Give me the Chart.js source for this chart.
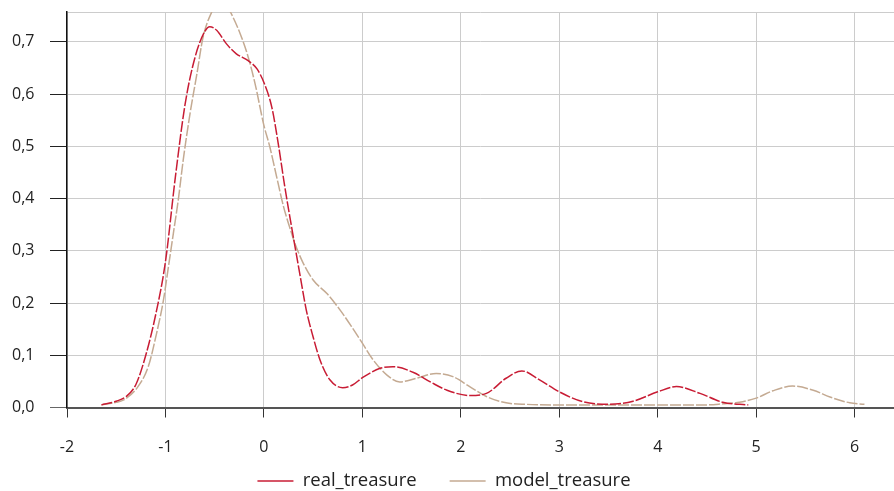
<!DOCTYPE html>
<html>
<head>
<meta charset="utf-8">
<script src="https://cdn.jsdelivr.net/npm/chart.js@4.4.1/dist/chart.umd.min.js"></script>
<style>
  html, body { margin: 0; padding: 0; background: #fff; }
  #wrap { width: 894px; height: 491px; }
</style>
</head>
<body>
<div id="wrap"><canvas id="c" width="894" height="491"></canvas></div>
<script>
// Kernel density estimates of the treasure returns
const realX = [-1.65, -1.5, -1.4, -1.3, -1.2, -1.1, -1.0, -0.9, -0.8, -0.7, -0.6, -0.55, -0.48, -0.38, -0.28, -0.16, -0.07,
  0.0, 0.08, 0.15, 0.21, 0.28, 0.37, 0.43, 0.5, 0.57, 0.67, 0.8, 0.9, 1.0, 1.18, 1.31, 1.52, 1.69, 1.86, 2.09, 2.26,
  2.46, 2.62, 2.8, 3.0, 3.24, 3.51, 3.75, 4.0, 4.19, 4.43, 4.66, 4.92];
const realY = [0.005, 0.012, 0.021, 0.044, 0.1, 0.177, 0.279, 0.44, 0.581, 0.67, 0.72, 0.729, 0.722, 0.696, 0.677, 0.664, 0.648,
  0.622, 0.575, 0.5, 0.425, 0.347, 0.25, 0.187, 0.135, 0.091, 0.053, 0.038, 0.043, 0.057, 0.075, 0.078, 0.067, 0.049, 0.033, 0.023, 0.027,
  0.056, 0.07, 0.053, 0.03, 0.011, 0.006, 0.012, 0.03, 0.04, 0.027, 0.01, 0.005];

const modelX = [-1.65, -1.5, -1.43, -1.29, -1.175, -1.09, -1.02, -0.97, -0.92, -0.87, -0.82, -0.75, -0.68, -0.62, -0.53, -0.43,
  -0.34, -0.24, -0.16, -0.09, 0.0, 0.06, 0.13, 0.2, 0.26, 0.315, 0.4, 0.5, 0.64, 0.78, 0.9, 0.99, 1.11, 1.25, 1.38, 1.55,
  1.75, 1.92, 2.09, 2.26, 2.46, 2.67, 3.0, 3.5, 4.0, 4.5, 4.66, 4.83, 5.0, 5.17, 5.37, 5.58, 5.75, 5.95, 6.1];
const modelY = [0.005, 0.01, 0.014, 0.037, 0.078, 0.142, 0.206, 0.269, 0.333, 0.397, 0.473, 0.563, 0.639, 0.707, 0.757, 0.785,
  0.757, 0.715, 0.671, 0.62, 0.54, 0.499, 0.441, 0.384, 0.346, 0.314, 0.276, 0.244, 0.218, 0.185, 0.152, 0.126, 0.091, 0.062, 0.049, 0.056,
  0.065, 0.059, 0.04, 0.021, 0.009, 0.006, 0.005, 0.005, 0.005, 0.005, 0.007, 0.01, 0.018, 0.032, 0.041, 0.033, 0.02, 0.009, 0.006];

const xTicks = [-2, -1, 0, 1, 2, 3, 4, 5, 6];
const yTicks = [0, 0.1, 0.2, 0.3, 0.4, 0.5, 0.6, 0.7];
const Y_MAX = 0.757;

const toPoints = (xs, ys) => xs.map((x, i) => ({ x: x, y: ys[i] }));

const FONT = "'Open Sans', 'Noto Sans', sans-serif";
const LEGEND_FONT = 18.5;
const LEGEND_PAD = 33;
const LEGEND_CENTER_Y = 481;

// Pull the legend row up under the tick labels and centre it on the whole canvas
const legendPlacement = {
  id: 'legendPlacement',
  afterLayout(chart) {
    const lg = chart.legend;
    if (!lg) return;
    const dy = (LEGEND_CENTER_Y - LEGEND_FONT / 2 - LEGEND_PAD) - lg.top;
    lg.top += dy;
    lg.bottom += dy;
    const dx = -lg.left;
    lg.left += dx;
    lg.right += dx / 2;
  }
};

new Chart(document.getElementById('c'), {
  type: 'line',
  data: {
    datasets: [
      {
        label: 'real_treasure',
        data: toPoints(realX, realY),
        borderColor: 'rgb(200, 28, 52)',
        backgroundColor: 'rgb(200, 28, 52)',
        borderWidth: 1.5,
        borderDash: [11, 2],
        pointRadius: 0,
        cubicInterpolationMode: 'monotone',
        fill: false
      },
      {
        label: 'model_treasure',
        data: toPoints(modelX, modelY),
        borderColor: 'rgb(196, 170, 146)',
        backgroundColor: 'rgb(196, 170, 146)',
        borderWidth: 1.5,
        borderDash: [11, 2],
        pointRadius: 0,
        cubicInterpolationMode: 'monotone',
        fill: false
      }
    ]
  },
  plugins: [legendPlacement],
  options: {
    responsive: false,
    animation: false,
    layout: { padding: { top: 12, left: 12, right: 0, bottom: -26 } },
    scales: {
      x: {
        type: 'linear',
        min: -2,
        max: 6.4,
        afterBuildTicks: (s) => { s.ticks = xTicks.map(v => ({ value: v })); },
        afterFit: (s) => { s.height = 48; },
        grid: {
          color: '#cccccc',
          lineWidth: 1,
          tickLength: 10,
          tickColor: '#333'
        },
        border: { display: true, color: '#555', width: 2 },
        ticks: {
          padding: 20,
          color: '#222',
          font: { family: FONT, size: 16 },
          maxRotation: 0,
          callback: (v) => String(v)
        }
      },
      y: {
        type: 'linear',
        min: 0,
        max: Y_MAX,
        afterBuildTicks: (s) => { s.ticks = yTicks.concat([Y_MAX]).map(v => ({ value: v })); },
        afterFit: (s) => { s.width = 55; },
        grid: {
          color: '#cccccc',
          lineWidth: 1,
          tickLength: 17,
          tickColor: (ctx) => {
            if (ctx.tick && ctx.tick.value === Y_MAX) return 'rgba(0,0,0,0)';
            return (ctx.tick && ctx.tick.value === 0) ? '#666' : '#222';
          }
        },
        border: { display: true, color: '#111', width: 1.5 },
        ticks: {
          padding: 0,
          crossAlign: 'far',
          color: '#222',
          font: { family: FONT, size: 16 },
          callback: (v) => (v === Y_MAX ? '' : v.toFixed(1).replace('.', ','))
        }
      }
    },
    plugins: {
      legend: {
        position: 'bottom',
        labels: {
          usePointStyle: true,
          pointStyle: 'line',
          pointStyleWidth: 36,
          padding: LEGEND_PAD,
          color: '#222',
          font: { family: FONT, size: LEGEND_FONT }
        }
      },
      tooltip: { enabled: false }
    }
  }
});
</script>
</body>
</html>
